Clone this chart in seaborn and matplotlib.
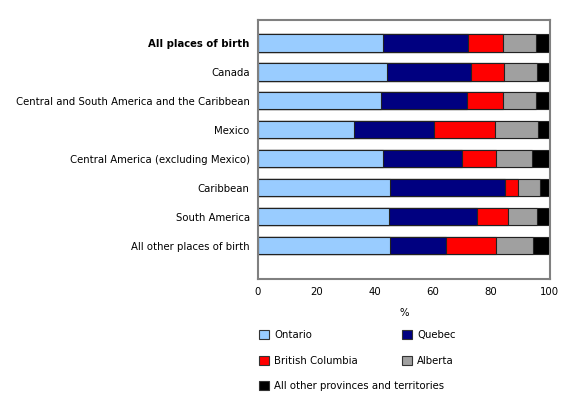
import numpy as np
import pandas as pd
import matplotlib
matplotlib.use('Agg')
import matplotlib.pyplot as plt
from matplotlib.patches import Patch
import seaborn as sns

# Data (percent distribution by province of residence)
categorias = ['All places of birth', 'Canada',
              'Central and South America and the Caribbean', 'Mexico',
              'Central America (excluding Mexico)', 'Caribbean',
              'South America', 'All other places of birth']
provincias = ['Ontario', 'Quebec', 'British Columbia', 'Alberta',
              'All other provinces and territories']
ontario = [42.8, 44.4, 42.3, 33.1, 42.8, 45.4, 44.8, 45.4]
quebec = [29.2, 28.8, 29.5, 27.4, 27.1, 39.4, 30.5, 19.2]
british_columbia = [12.1, 11.1, 12.4, 20.8, 11.6, 4.4, 10.4, 17.2]
alberta = [11.4, 11.5, 11.3, 14.6, 12.4, 7.4, 10.1, 12.7]
outras = [4.5, 4.2, 4.5, 4.1, 6.1, 3.4, 4.2, 5.5]
cores = ['#99ccff', '#000080', '#ff0000', '#a0a0a0', '#000000']

df = pd.DataFrame({'categoria': categorias, 'Ontario': ontario,
                   'Quebec': quebec, 'British Columbia': british_columbia,
                   'Alberta': alberta,
                   'All other provinces and territories': outras})

# Somas acumuladas para empilhar as barras
acumulado = df[provincias].cumsum(axis=1)

sns.set_style('white')
plt.rcParams['font.family'] = ['DejaVu Sans']
plt.rcParams['font.size'] = 7.3
plt.rcParams['text.color'] = 'black'
plt.rcParams['axes.labelcolor'] = 'black'
plt.rcParams['xtick.color'] = 'black'
plt.rcParams['ytick.color'] = 'black'

fig = plt.figure(figsize=(5.8, 3.95), dpi=100)
ax = fig.add_axes([258 / 580, 1 - 278.5 / 395, 291.5 / 580, 259 / 395])

# desenha do maior acumulado para o menor (sobreposição)
for prov, cor in reversed(list(zip(provincias, cores))):
    sns.barplot(x=acumulado[prov], y=df['categoria'], color=cor,
                saturation=1, orient='h', width=0.6, edgecolor='#222222',
                linewidth=0.8, ax=ax)

ax.set_xlim(0, 100)
ax.set_ylim(8.14, -0.81)
ax.set_xticks([0, 20, 40, 60, 80, 100])
ax.set_xlabel('%', fontsize=7.3, labelpad=8)
ax.set_ylabel('')
ax.tick_params(axis='x', direction='in', length=4, width=1, color='#333333',
               labelsize=7.3, pad=6)
ax.tick_params(axis='y', length=0, labelsize=7.3, pad=6)
for s in ax.spines.values():
    s.set_color('#808080')
    s.set_linewidth(1.5)
ax.get_yticklabels()[0].set_fontweight('bold')

handles = [Patch(facecolor=c, edgecolor='#333333', linewidth=0.8) for c in cores]
leg1 = fig.legend([handles[0], handles[2], handles[1], handles[3]],
                  ['Ontario', 'British Columbia', 'Quebec', 'Alberta'],
                  ncol=2, loc='upper left', bbox_to_anchor=(251 / 580, 1 - 322 / 395),
                  frameon=False, fontsize=7.3, handlelength=1.0, handleheight=1.0,
                  handletextpad=0.5, labelspacing=1.55, columnspacing=4.35,
                  borderpad=0.3)
fig.legend([handles[4]], [provincias[4]], loc='upper left',
           bbox_to_anchor=(251 / 580, 1 - 373 / 395), frameon=False,
           fontsize=7.3, handlelength=1.0, handleheight=1.0,
           handletextpad=0.5, borderpad=0.3)

fig.savefig('out.png', dpi=100)
